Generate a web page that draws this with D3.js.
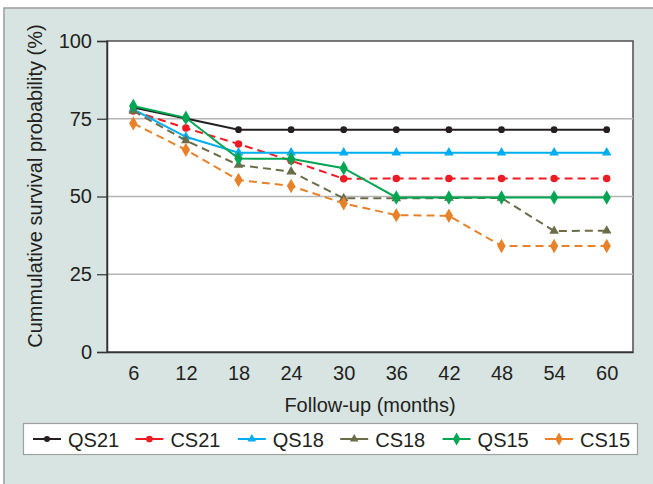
<!DOCTYPE html>
<html>
<head>
<meta charset="utf-8">
<script src="https://cdn.jsdelivr.net/npm/d3@7"></script>
<style>
  body { margin: 0; background: #fff; }
  text { font-family: "Liberation Sans", Arial, sans-serif; fill: #231f20; }
</style>
</head>
<body>
<div id="chart"></div>
<script>
// data
var months = [6, 12, 18, 24, 30, 36, 42, 48, 54, 60];
var yTicks = [0, 25, 50, 75, 100];
var seriesNames = ["QS21", "CS21", "QS18", "CS18", "QS15", "CS15"];
var qs21 = [78.6, 75.1, 71.5, 71.5, 71.5, 71.5, 71.5, 71.5, 71.5, 71.5];
var cs21 = [77.5, 72.0, 66.9, 61.5, 55.7, 55.8, 55.8, 55.8, 55.8, 55.8];
var qs18 = [78.0, 69.2, 64.1, 64.1, 64.1, 64.1, 64.1, 64.1, 64.1, 64.1];
var cs18 = [77.5, 68.0, 60.1, 58.0, 49.4, 49.4, 49.5, 49.5, 38.9, 39.0];
var qs15 = [79.1, 75.3, 62.2, 62.1, 59.1, 49.7, 49.7, 49.7, 49.7, 49.7];
var cs15 = [73.5, 65.0, 55.3, 53.4, 47.8, 44.0, 43.8, 34.1, 34.1, 34.1];

var styles = {
  QS21: {color: "#231f20", dash: null, shape: d3.symbolCircle, size: 36},
  CS21: {color: "#ed1c24", dash: "8,5", shape: d3.symbolCircle, size: 44},
  QS18: {color: "#00aeef", dash: null, shape: d3.symbolTriangle, size: 40},
  CS18: {color: "#6b6c48", dash: "8,5", shape: d3.symbolTriangle, size: 40},
  QS15: {color: "#00a651", dash: null, shape: d3.symbolDiamond, size: 60},
  CS15: {color: "#e8822a", dash: "8,5", shape: d3.symbolDiamond, size: 60}
};
var allValues = [qs21, cs21, qs18, cs18, qs15, cs15];

var width = 653, height = 484;
var plot = {left: 107, right: 633, top: 41, bottom: 352};

var svg = d3.select("#chart").append("svg")
    .attr("width", width)
    .attr("height", height);

// panel background
svg.append("rect")
    .attr("x", 4).attr("y", 8)
    .attr("width", width).attr("height", height)
    .attr("fill", "#d7e4e1")
    .attr("stroke", "#9a9a9a")
    .attr("stroke-width", 1.5);

var x = d3.scalePoint()
    .domain(months)
    .range([plot.left, plot.right])
    .padding(0.5);

var y = d3.scaleLinear()
    .domain([0, 100])
    .range([plot.bottom, plot.top]);

// plot area
svg.append("rect")
    .attr("x", plot.left).attr("y", plot.top)
    .attr("width", plot.right - plot.left)
    .attr("height", plot.bottom - plot.top)
    .attr("fill", "#fff")
    .attr("stroke", "#4d4d4d")
    .attr("stroke-width", 1.5);

// gridlines
svg.append("g")
    .selectAll("line")
    .data([25, 50, 75])
    .enter().append("line")
    .attr("x1", plot.left).attr("x2", plot.right)
    .attr("y1", function(d) { return y(d); })
    .attr("y2", function(d) { return y(d); })
    .attr("stroke", "#b5b5b5")
    .attr("stroke-width", 1.5);

// y axis
var yAxis = svg.append("g")
    .attr("transform", "translate(" + plot.left + ",0)")
    .call(d3.axisLeft(y).tickValues(yTicks).tickSize(10).tickPadding(5));
yAxis.select(".domain").attr("stroke", "#333").attr("stroke-width", 1.5);
yAxis.selectAll(".tick line").attr("stroke", "#333").attr("stroke-width", 1.2);
yAxis.selectAll(".tick text")
    .attr("font-size", 20)
    .attr("font-family", "Liberation Sans, Arial, sans-serif")
    .attr("fill", "#231f20");

// x axis
var xAxis = svg.append("g")
    .attr("transform", "translate(0," + plot.bottom + ")")
    .call(d3.axisBottom(x).tickSize(0).tickPadding(14));
xAxis.select(".domain").attr("stroke", "#333").attr("stroke-width", 1.5);
xAxis.selectAll(".tick text")
    .attr("font-size", 20)
    .attr("font-family", "Liberation Sans, Arial, sans-serif")
    .attr("fill", "#231f20");

// axis titles
svg.append("text")
    .attr("x", (plot.left + plot.right) / 2)
    .attr("y", 412)
    .attr("text-anchor", "middle")
    .attr("font-size", 20)
    .text("Follow-up (months)");

svg.append("text")
    .attr("transform", "translate(42," + 186 + ") rotate(-90)")
    .attr("text-anchor", "middle")
    .attr("font-size", 20)
    .text("Cummulative survival probability (%)");

// series
var line = d3.line()
    .x(function(d, i) { return x(months[i]); })
    .y(function(d) { return y(d); });

seriesNames.forEach(function(name, k) {
  var st = styles[name];
  var vals = allValues[k];
  var g = svg.append("g");
  g.append("path")
      .datum(vals)
      .attr("d", line)
      .attr("fill", "none")
      .attr("stroke", st.color)
      .attr("stroke-width", 2)
      .attr("stroke-dasharray", st.dash);
  g.selectAll("path.mark")
      .data(vals)
      .enter().append("path")
      .attr("class", "mark")
      .attr("d", d3.symbol().type(st.shape).size(st.size))
      .attr("transform", function(d, i) {
        return "translate(" + x(months[i]) + "," + y(d) + ")";
      })
      .attr("fill", st.color);
});

// legend
var legend = svg.append("g");
legend.append("rect")
    .attr("x", 23.5).attr("y", 423.5)
    .attr("width", 614).attr("height", 31)
    .attr("fill", "#fff")
    .attr("stroke", "#a0a0a0")
    .attr("stroke-width", 1.2);

var item = legend.selectAll("g.item")
    .data(seriesNames)
    .enter().append("g")
    .attr("class", "item")
    .attr("transform", function(d, i) { return "translate(" + (33 + i * 102.4) + ",439)"; });

item.append("line")
    .attr("x1", 0).attr("x2", 28)
    .attr("stroke", function(d) { return styles[d].color; })
    .attr("stroke-width", 2);
item.append("path")
    .attr("d", function(d) { return d3.symbol().type(styles[d].shape).size(styles[d].size * 0.8)(); })
    .attr("transform", "translate(14,0)")
    .attr("fill", function(d) { return styles[d].color; });
item.append("text")
    .attr("x", 35)
    .attr("y", 7.5)
    .attr("font-size", 20)
    .text(function(d) { return d; });
</script>
</body>
</html>
